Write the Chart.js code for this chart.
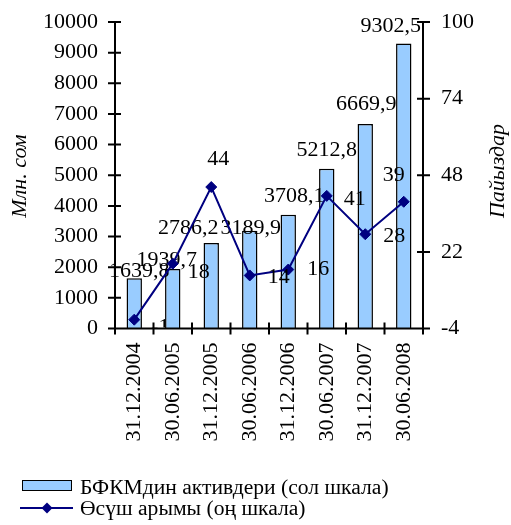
<!DOCTYPE html>
<html>
<head>
<meta charset="utf-8">
<script src="https://cdn.jsdelivr.net/npm/chart.js@4.4.1/dist/chart.umd.min.js"></script>
<style>
  html, body { margin: 0; padding: 0; background: #fff; }
  #wrap { position: relative; width: 511px; height: 525px; overflow: hidden; }
  #chart { position: absolute; left: 0; top: 0; }
  .lg { position: absolute; left: 0; font-family: "Liberation Serif", "Times New Roman", serif;
        font-size: 21.6px; line-height: 22px; color: #000; white-space: nowrap; }
  .lg .txt { position: absolute; left: 80px; top: 0; }
  .swatch { position: absolute; left: 22px; top: 4px; width: 50px; height: 11px;
            box-sizing: border-box; background: #99CCFF; border: 1.5px solid #000; }
  .lg svg { position: absolute; left: 0; top: 0; }
</style>
</head>
<body>
<div id="wrap">
  <canvas id="chart" width="511" height="525"></canvas>
  <div class="lg" style="top:476px;width:511px;height:22px;">
    <div class="swatch"></div>
    <span class="txt">БФКМдин активдери (сол шкала)</span>
  </div>
  <div class="lg" style="top:497px;width:511px;height:22px;">
    <svg width="80" height="22">
      <line x1="20" y1="11" x2="73" y2="11" stroke="#000080" stroke-width="2"/>
      <polygon points="47,5.5 52.5,11 47,16.5 41.5,11" fill="#000080"/>
    </svg>
    <span class="txt">Өсүш арымы (оң шкала)</span>
  </div>
</div>
<script>
// Reporting dates
const categories = ['31.12.2004', '30.06.2005', '31.12.2005', '30.06.2006',
                    '31.12.2006', '30.06.2007', '31.12.2007', '30.06.2008'];
// Assets, mln som (left scale)
const assets = [1639.8, 1939.7, 2786.2, 3189.9, 3708.1, 5212.8, 6669.9, 9302.5];
// Growth rate, percent (right scale)
const growth = [-1, 18, 44, 14, 16, 41, 28, 39];
// Axis tick values
const leftTicks = [0, 1000, 2000, 3000, 4000, 5000, 6000, 7000, 8000, 9000, 10000];
const rightTicks = [-4, 22, 48, 74, 100];

// Label nudges in pixels [dx, dy] from each mark's anchor
const barLabelShift = [[5, -7], [-6, -9], [-23, -15], [1, -3], [6, -19], [0, -19], [1, -20], [-13, -17]];
const lineLabelShift = [[26, 8], [26, 9], [7, -28], [29, 2], [30, 0], [28, 3.5], [29, 2], [-10, -27]];

const FONT = '"Liberation Serif", "Times New Roman", serif';
const tickFont = { family: FONT, size: 22 };

const fmtComma = v => v.toFixed(1).replace('.', ',');

// fixed axis band sizes, no extra padding from tick labels
const fixBand = (w) => (s) => { s.width = w; s.paddingTop = 0; s.paddingBottom = 0; };

const overlay = {
  id: 'overlay',
  afterDatasetDraw(chart, args) {
    if (args.index !== 0) return;
    const ctx = chart.ctx;
    const meta = chart.getDatasetMeta(0);
    ctx.save();
    ctx.font = '22px ' + FONT;
    ctx.fillStyle = '#000';
    ctx.textAlign = 'center';
    ctx.textBaseline = 'middle';
    meta.data.forEach((el, i) => {
      const s = barLabelShift[i];
      ctx.fillText(fmtComma(assets[i]), el.x + s[0], el.y + s[1]);
    });
    ctx.restore();
  },
  afterDatasetsDraw(chart) {
    const ctx = chart.ctx;
    const area = chart.chartArea;
    const x = chart.scales.x, yl = chart.scales.yLeft, yr = chart.scales.yRight;
    // growth labels, kept inside the plot above the category axis
    const meta = chart.getDatasetMeta(1);
    ctx.save();
    ctx.beginPath();
    ctx.rect(0, 0, chart.width, area.bottom - 1);
    ctx.clip();
    ctx.font = '22px ' + FONT;
    ctx.fillStyle = '#000';
    ctx.textAlign = 'center';
    ctx.textBaseline = 'middle';
    meta.data.forEach((el, i) => {
      const s = lineLabelShift[i];
      ctx.fillText(String(growth[i]), el.x + s[0], el.y + s[1]);
    });
    ctx.restore();

    // axis lines with cross tick marks
    ctx.save();
    ctx.strokeStyle = '#000';
    ctx.lineWidth = 2;
    ctx.beginPath();
    ctx.moveTo(area.left, area.top);
    ctx.lineTo(area.left, area.bottom);
    ctx.moveTo(area.right, area.top);
    ctx.lineTo(area.right, area.bottom);
    ctx.moveTo(area.left, area.bottom);
    ctx.lineTo(area.right, area.bottom);
    leftTicks.forEach(v => {
      const py = yl.getPixelForValue(v);
      ctx.moveTo(area.left - 7, py);
      ctx.lineTo(area.left + 6, py);
    });
    rightTicks.forEach(v => {
      const py = yr.getPixelForValue(v);
      ctx.moveTo(area.right - 6, py);
      ctx.lineTo(area.right + 7, py);
    });
    for (let i = 0; i <= categories.length; i++) {
      const px = x.getPixelForValue(i - 0.5);
      ctx.moveTo(px, area.bottom - 6);
      ctx.lineTo(px, area.bottom + 6);
    }
    ctx.stroke();
    ctx.restore();
  },
  afterDraw(chart) {
    const ctx = chart.ctx;
    ctx.save();
    ctx.font = 'italic 22px ' + FONT;
    ctx.fillStyle = '#000';
    ctx.textAlign = 'center';
    ctx.textBaseline = 'middle';
    ctx.translate(20, 176);
    ctx.rotate(-Math.PI / 2);
    ctx.fillText('Млн. сом', 0, 0);
    ctx.restore();
    ctx.save();
    ctx.font = 'italic 22px ' + FONT;
    ctx.fillStyle = '#000';
    ctx.textAlign = 'center';
    ctx.textBaseline = 'middle';
    ctx.translate(498, 171);
    ctx.rotate(-Math.PI / 2);
    ctx.fillText('Пайыздар', 0, 0);
    ctx.restore();
  }
};

new Chart(document.getElementById('chart'), {
  data: {
    labels: categories,
    datasets: [
      {
        type: 'bar',
        label: 'БФКМдин активдери (сол шкала)',
        data: assets,
        yAxisID: 'yLeft',
        backgroundColor: '#99CCFF',
        borderColor: '#000',
        borderWidth: 1.5,
        barPercentage: 0.4,
        categoryPercentage: 1,
        order: 2
      },
      {
        type: 'line',
        label: 'Өсүш арымы (оң шкала)',
        data: growth,
        yAxisID: 'yRight',
        borderColor: '#000080',
        backgroundColor: '#000080',
        borderWidth: 2,
        pointStyle: 'rectRot',
        pointRadius: 5.5,
        pointBorderWidth: 1,
        pointBorderColor: '#000080',
        pointBackgroundColor: '#000080',
        tension: 0,
        order: 1
      }
    ]
  },
  options: {
    responsive: false,
    animation: false,
    events: [],
    layout: { padding: { top: 22, left: 0, right: 0, bottom: 0 } },
    plugins: { legend: { display: false }, tooltip: { enabled: false } },
    scales: {
      x: {
        offset: true,
        grid: { display: false, drawTicks: false, offset: true },
        border: { display: false },
        ticks: { minRotation: 90, maxRotation: 90, autoSkip: false, padding: 14, font: tickFont, color: '#000' },
        afterFit(s) { s.height = 196.5; s.paddingLeft = 0; s.paddingRight = 0; }
      },
      yLeft: {
        position: 'left',
        min: 0,
        max: 10000,
        afterBuildTicks(s) { s.ticks = leftTicks.map(v => ({ value: v })); },
        grid: { display: false, drawTicks: false },
        border: { display: false },
        ticks: { padding: 17, font: tickFont, color: '#000', callback: v => String(v) },
        afterFit: fixBand(115)
      },
      yRight: {
        position: 'right',
        min: -4,
        max: 100,
        afterBuildTicks(s) { s.ticks = rightTicks.map(v => ({ value: v })); },
        grid: { display: false, drawTicks: false },
        border: { display: false },
        ticks: { padding: 18, font: tickFont, color: '#000', callback: v => String(v) },
        afterFit: fixBand(88)
      }
    }
  },
  plugins: [overlay]
});
</script>
</body>
</html>
